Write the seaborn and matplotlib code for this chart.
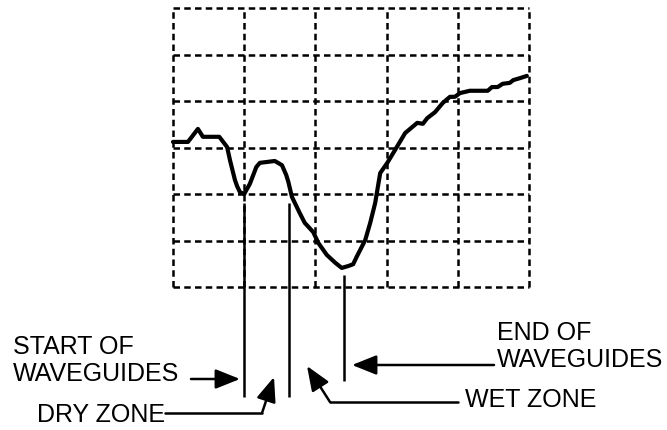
import matplotlib
matplotlib.use("Agg")
import matplotlib.pyplot as plt
import seaborn as sns
import pandas as pd

sns.set_theme(style="white")
plt.rcParams['font.family'] = ['Liberation Sans', 'DejaVu Sans']

# Trace data (grid units: x 0..5, y 0..6)
trace_x = [0.00, 0.21, 0.35, 0.42, 0.65, 0.76, 0.80, 0.87, 0.90, 0.94, 1.00, 1.08, 1.17, 1.22,
           1.43, 1.53, 1.59, 1.62, 1.67, 1.78, 1.85, 1.97, 2.04, 2.16, 2.28, 2.37, 2.46, 2.53,
           2.58, 2.70, 2.77, 2.84, 2.91, 3.01, 3.12, 3.26, 3.43, 3.51, 3.57, 3.68, 3.79, 3.89,
           3.96, 4.03, 4.17, 4.42, 4.48, 4.56, 4.63, 4.73, 4.78, 4.87, 4.97]
trace_y = [3.12, 3.12, 3.40, 3.23, 3.23, 3.01, 2.73, 2.30, 2.17, 2.04, 2.00, 2.22, 2.58, 2.67,
           2.71, 2.62, 2.41, 2.26, 1.94, 1.59, 1.38, 1.18, 0.95, 0.69, 0.52, 0.41, 0.45, 0.49,
           0.65, 1.01, 1.38, 1.81, 2.45, 2.67, 2.95, 3.31, 3.53, 3.51, 3.63, 3.76, 3.96, 4.09,
           4.09, 4.17, 4.22, 4.22, 4.30, 4.30, 4.37, 4.39, 4.45, 4.49, 4.54]

# Marker lines (x position, top, bottom) in grid units
marker_x = [1.00, 1.63, 2.40]
marker_top = [1.81, 1.81, 0.26]
marker_bottom = [-2.37, -2.37, -2.02]

grid_x = [0, 1, 2, 3, 4, 5]
grid_y = [0, 1, 2, 3, 4, 5, 6]

labels = ["START OF\nWAVEGUIDES", "DRY ZONE", "WET ZONE", "END OF\nWAVEGUIDES"]

W, H = 667, 430
fig = plt.figure(figsize=(W / 100, H / 100), dpi=100)
fig.patch.set_facecolor("white")

ax = fig.add_axes([173 / W, (H - 287) / H, 356 / W, 279 / H])
ax.set_xlim(0, 5)
ax.set_ylim(0, 6)
ax.set_facecolor("none")
for s in ax.spines.values():
    s.set_visible(False)
ax.set_xticks([])
ax.set_yticks([])

for gx in grid_x:
    ax.axvline(gx, color="black", lw=1.8, ls=(0, (2.6, 1.7)), clip_on=False, zorder=1)
for gy in grid_y:
    ax.axhline(gy, color="black", lw=1.8, ls=(0, (2.6, 1.7)), clip_on=False, zorder=1)

df = pd.DataFrame({"x": trace_x, "y": trace_y})
sns.lineplot(data=df, x="x", y="y", ax=ax, color="black", lw=3.0, sort=False,
             estimator=None, zorder=3, solid_joinstyle="round", solid_capstyle="round")
ax.set_xlabel("")
ax.set_ylabel("")
ax.lines[-1].set_clip_on(False)

ax.vlines(marker_x, marker_bottom, marker_top, color="black", lw=1.8, clip_on=False, zorder=3)

# Overlay for annotations in pixel coordinates
ov = fig.add_axes([0, 0, 1, 1])
ov.set_xlim(0, W)
ov.set_ylim(H, 0)
ov.axis("off")
ov.set_facecolor("none")

fs = 18
ov.text(13, 354, "START OF", fontsize=fs, va="baseline", ha="left", color="black")
ov.text(13, 381, "WAVEGUIDES", fontsize=fs, va="baseline", ha="left", color="black")
ov.text(37, 422, labels[1], fontsize=fs, va="baseline", ha="left", color="black")
ov.text(465, 407, labels[2], fontsize=fs, va="baseline", ha="left", color="black")
ov.text(497, 340, "END OF", fontsize=fs, va="baseline", ha="left", color="black")
ov.text(497, 367, "WAVEGUIDES", fontsize=fs, va="baseline", ha="left", color="black")

ap = dict(arrowstyle="-|>,head_length=1.0,head_width=0.4", lw=1.8, color="black",
          shrinkA=0, shrinkB=0, mutation_scale=15)

# start of waveguides arrow
ov.annotate("", xy=(240, 379), xytext=(191, 379), arrowprops=ap)
# dry zone
ov.plot([165, 262], [413, 413], color="black", lw=1.8)
ov.annotate("", xy=(274, 377), xytext=(262, 413), arrowprops=ap)
# wet zone
ov.plot([458, 330], [402, 402], color="black", lw=1.8)
ov.annotate("", xy=(307, 366), xytext=(330, 402), arrowprops=ap)
# end of waveguides
ov.annotate("", xy=(352, 365), xytext=(494, 365), arrowprops=ap)

fig.savefig("out.png", dpi=100, facecolor="white")
